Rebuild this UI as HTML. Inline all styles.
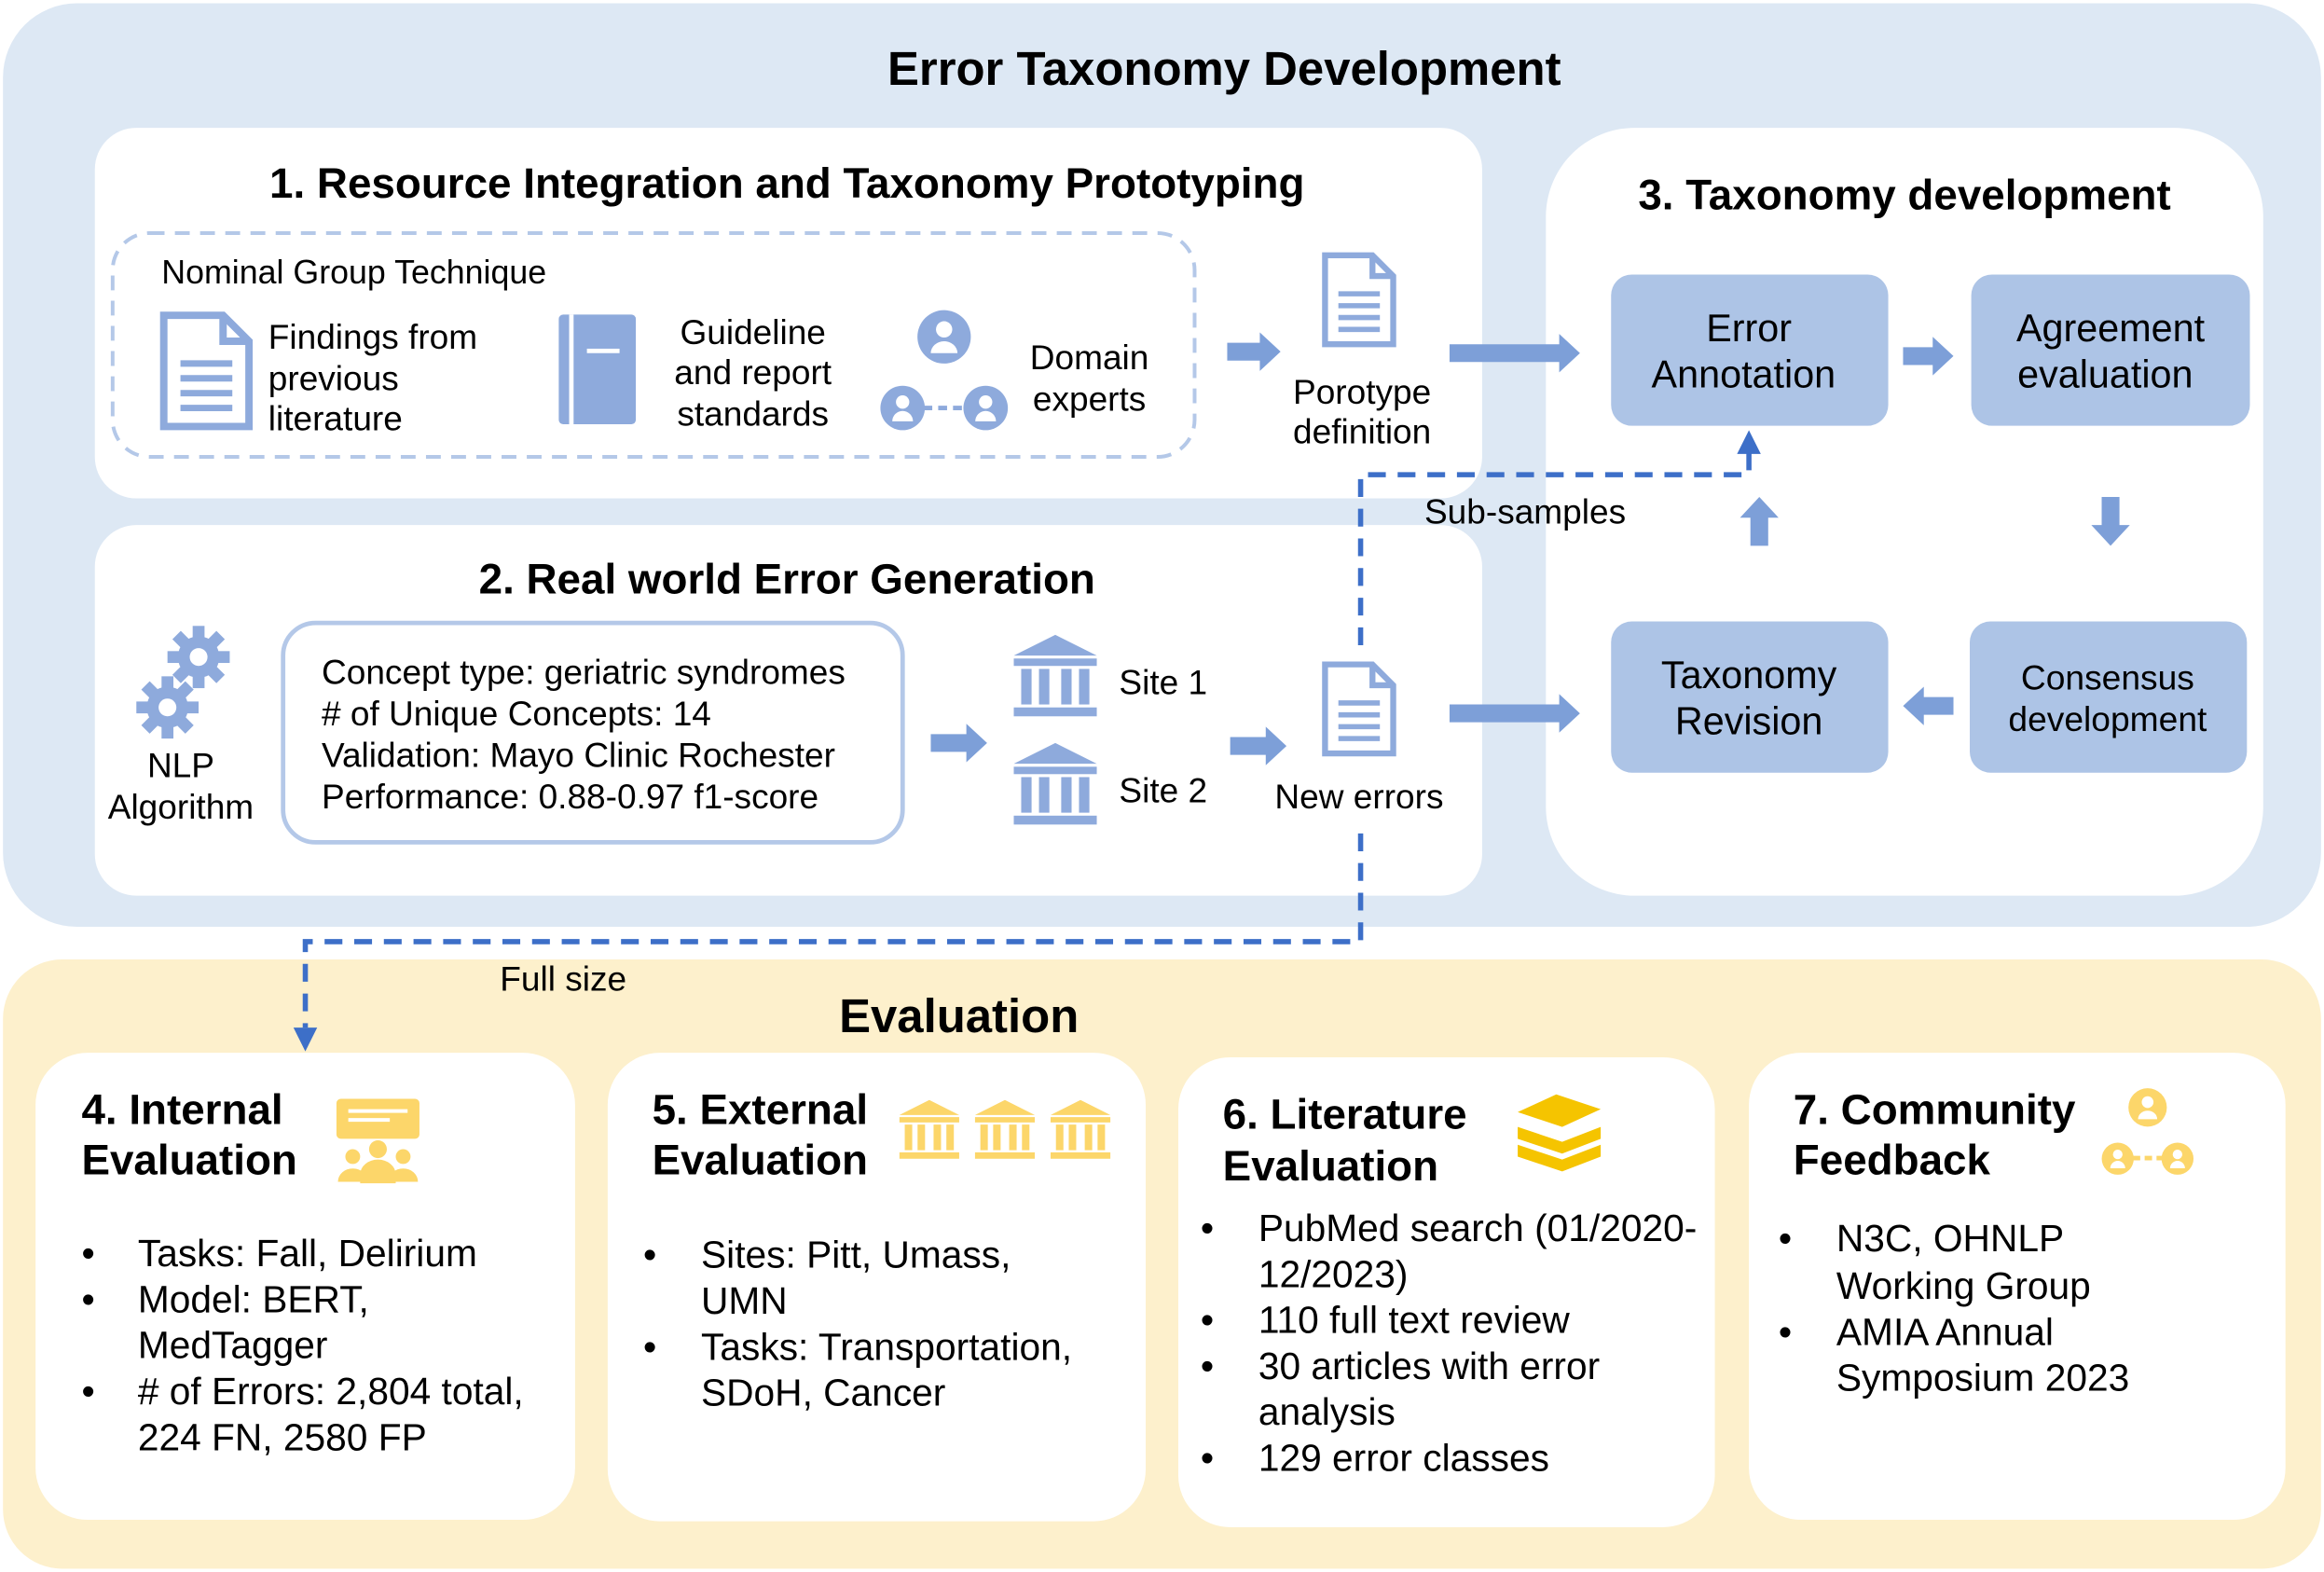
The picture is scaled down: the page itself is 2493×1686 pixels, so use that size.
<!DOCTYPE html>
<html><head><meta charset="utf-8"><style>
html,body{margin:0;padding:0;background:#fff;}
svg{display:block;}
text{font-family:"Liberation Sans",Arial,sans-serif;fill:#000;}
.b{font-weight:bold;}
</style></head><body>
<svg width="2493" height="1686" viewBox="0 0 1568 1060" xmlns="http://www.w3.org/2000/svg">
<defs>
<g id="ppl">
 <circle cx="0" cy="-28" r="18"/><circle cx="-28" cy="20" r="15"/><circle cx="28" cy="20" r="15"/>
 <g fill="#fff"><circle cx="0" cy="-33" r="5.5"/><path d="M-9,-17 a9,8 0 0 1 18,0 z"/>
 <circle cx="-28" cy="16" r="4.5"/><path d="M-35,29 a7,7 0 0 1 14,0 z"/>
 <circle cx="28" cy="16" r="4.5"/><path d="M21,29 a7,7 0 0 1 14,0 z"/></g>
</g>
<g id="bank">
 <path d="M0,-28 L28,-14 L-28,-14 Z"/><rect x="-28" y="-12" width="56" height="5"/>
 <rect x="-23" y="-5" width="7" height="24"/><rect x="-11" y="-5" width="7" height="24"/><rect x="4" y="-5" width="7" height="24"/><rect x="16" y="-5" width="7" height="24"/>
 <rect x="-28" y="21" width="56" height="6"/>
</g>
<g id="doc">
 <path d="M-22,-30 H10 L24,-16 V30 H-22 Z" fill="none" stroke-width="4"/>
 <path d="M10,-30 V-16 H24" fill="none" stroke-width="4"/>
 <g stroke-width="3.5"><line x1="-13" y1="-4" x2="15" y2="-4"/><line x1="-13" y1="4" x2="15" y2="4"/><line x1="-13" y1="12" x2="15" y2="12"/><line x1="-13" y1="20" x2="15" y2="20"/></g>
</g>
</defs>

<rect x="2" y="2" width="1564" height="623" rx="50" fill="#dde8f4"/>
<text x="826" y="57" font-size="32" class="b" text-anchor="middle">Error Taxonomy Development</text>
<rect x="64" y="86" width="936" height="250" rx="28" fill="#fff"/>
<text x="531" y="133" font-size="28.8" class="b" text-anchor="middle">1. Resource Integration and Taxonomy Prototyping</text>
<rect x="76" y="157" width="730" height="151" rx="25" fill="none" stroke="#b4c8e8" stroke-width="2.5" stroke-dasharray="10,7"/>
<text x="109" y="191" font-size="22.5">Nominal Group Technique</text>
<g stroke="#8eaadc" fill="#8eaadc"><use href="#doc" transform="translate(138,250) scale(1.25)"/></g>
<text font-size="23.3"><tspan x="181" y="235">Findings from</tspan><tspan x="181" y="263">previous</tspan><tspan x="181" y="290">literature</tspan></text>
<rect x="377" y="212" width="52" height="74" rx="3" fill="#8eaadc"/><rect x="384" y="212" width="3" height="74" fill="#fff"/><rect x="396" y="235" width="22" height="3" fill="#fff"/>
<text font-size="23.3" text-anchor="middle"><tspan x="508" y="232">Guideline</tspan><tspan x="508" y="259">and report</tspan><tspan x="508" y="287">standards</tspan></text>
<g fill="#8eaadc"><use href="#ppl" transform="translate(637,255)"/></g>
<line x1="623" y1="275" x2="651" y2="275" stroke="#8eaadc" stroke-width="3" stroke-dasharray="6,4"/>
<text font-size="23.3" text-anchor="middle"><tspan x="735" y="249">Domain</tspan><tspan x="735" y="277">experts</tspan></text>
<g stroke="#8eaadc" fill="#8eaadc"><use href="#doc" transform="translate(916,202)"/></g>
<text font-size="23.3" text-anchor="middle"><tspan x="919" y="272">Porotype</tspan><tspan x="919" y="299">definition</tspan></text>

<rect x="64" y="354" width="936" height="250" rx="28" fill="#fff"/>
<text x="531" y="400" font-size="28.8" class="b" text-anchor="middle">2. Real world Error Generation</text>
<g fill="#8eaadc">
 <g transform="translate(134,443)"><rect x="-4" y="-21" width="8" height="42"/><rect x="-21" y="-4" width="42" height="8"/><rect x="-4" y="-21" width="8" height="42" transform="rotate(45)"/><rect x="-4" y="-21" width="8" height="42" transform="rotate(-45)"/><circle r="14"/><circle r="6" fill="#fff"/></g>
 <g transform="translate(113,477)"><rect x="-4" y="-21" width="8" height="42"/><rect x="-21" y="-4" width="42" height="8"/><rect x="-4" y="-21" width="8" height="42" transform="rotate(45)"/><rect x="-4" y="-21" width="8" height="42" transform="rotate(-45)"/><circle r="14"/><circle r="6" fill="#fff"/></g>
</g>
<text font-size="23.3" text-anchor="middle"><tspan x="122" y="524">NLP</tspan><tspan x="122" y="552">Algorithm</tspan></text>
<rect x="191" y="420" width="418" height="148" rx="22" fill="#fff" stroke="#b4c8e8" stroke-width="3"/>
<text font-size="23.3"><tspan x="217" y="461">Concept type: geriatric syndromes</tspan><tspan x="217" y="489"># of Unique Concepts: 14</tspan><tspan x="217" y="517">Validation: Mayo Clinic Rochester</tspan><tspan x="217" y="545">Performance: 0.88-0.97 f1-score</tspan></text>
<g fill="#8eaadc"><use href="#bank" transform="translate(712,456)"/><use href="#bank" transform="translate(712,529)"/></g>
<text x="755" y="468" font-size="23.3">Site 1</text><text x="755" y="541" font-size="23.3">Site 2</text>
<g stroke="#8eaadc" fill="#8eaadc"><use href="#doc" transform="translate(916,478)"/></g>
<text x="917" y="545" font-size="23.3" text-anchor="middle">New errors</text>

<rect x="1043" y="86" width="484" height="518" rx="60" fill="#fff"/>
<text x="1285" y="141" font-size="28.8" class="b" text-anchor="middle">3. Taxonomy development</text>
<g fill="#adc4e6">
<rect x="1087" y="185" width="187" height="102" rx="14"/><rect x="1330" y="185" width="188" height="102" rx="14"/>
<rect x="1087" y="419" width="187" height="102" rx="14"/><rect x="1329" y="419" width="187" height="102" rx="14"/>
</g>
<text font-size="26" text-anchor="middle"><tspan x="1180" y="230">Error</tspan><tspan x="1180" y="261">Annotation</tspan>
<tspan x="1424" y="230">Agreement</tspan><tspan x="1424" y="261">evaluation</tspan>
<tspan x="1180" y="464">Taxonomy</tspan><tspan x="1180" y="495">Revision</tspan></text>
<text font-size="23.4" text-anchor="middle"><tspan x="1422" y="465">Consensus</tspan><tspan x="1422" y="493">development</tspan></text>

<g fill="#7d9fd8">
<polygon points="828,231 850,231 850,224 864,237 850,250 850,243 828,243"/>
<polygon points="978,232 1052,232 1052,225 1066,238 1052,251 1052,244 978,244"/>
<polygon points="1284,234 1304,234 1304,227 1318,240 1304,253 1304,246 1284,246"/>
<polygon points="1418,335 1430,335 1430,354 1437,354 1424,368 1411,354 1418,354"/>
<polygon points="1318,470 1298,470 1298,463 1284,476 1298,489 1298,482 1318,482"/>
<polygon points="1181,368 1193,368 1193,349 1200,349 1187,335 1174,349 1181,349"/>
<polygon points="978,475 1052,475 1052,468 1066,481 1052,494 1052,487 978,487"/>
<polygon points="628,495 652,495 652,488 666,501 652,514 652,507 628,507"/>
<polygon points="830,497 854,497 854,490 868,503 854,516 854,509 830,509"/>
</g>

<rect x="2" y="647" width="1564" height="411" rx="40" fill="#fdf0cc"/>
<text x="647" y="696" font-size="32" class="b" text-anchor="middle">Evaluation</text>
<text x="380" y="668" font-size="23.3" text-anchor="middle">Full size</text>
<g fill="#fff">
<rect x="24" y="710" width="364" height="315" rx="35"/><rect x="410" y="710" width="363" height="316" rx="35"/>
<rect x="795" y="713" width="362" height="317" rx="35"/><rect x="1180" y="710" width="362" height="315" rx="35"/>
</g>
<text font-size="28.8" class="b"><tspan x="55" y="758">4. Internal</tspan><tspan x="55" y="792">Evaluation</tspan>
<tspan x="440" y="758">5. External</tspan><tspan x="440" y="792">Evaluation</tspan>
<tspan x="825" y="761">6. Literature</tspan><tspan x="825" y="796">Evaluation</tspan>
<tspan x="1210" y="758">7. Community</tspan><tspan x="1210" y="792">Feedback</tspan></text>
<g fill="#fcd66a">
<rect x="227" y="741" width="56" height="27" rx="3"/>
<g fill="#fff"><rect x="235" y="748" width="40" height="2.5"/><rect x="235" y="754" width="28" height="2.5"/></g>
<circle cx="255" cy="775" r="6"/><path d="M243,792 a12,10 0 0 1 24,0 z"/>
<circle cx="238" cy="780" r="5"/><path d="M228,797 a10,9 0 0 1 20,0 z"/>
<circle cx="272" cy="780" r="5"/><path d="M262,797 a10,9 0 0 1 20,0 z"/>
<rect x="243" y="790" width="24" height="8"/>
<use href="#bank" transform="translate(627,762) scale(0.72)"/><use href="#bank" transform="translate(678,762) scale(0.72)"/><use href="#bank" transform="translate(729,762) scale(0.72)"/>
<g transform="translate(1449,767) scale(0.72)"><use href="#ppl"/></g>
</g>
<line x1="1439" y1="781" x2="1459" y2="781" stroke="#fcd66a" stroke-width="3" stroke-dasharray="5,3"/>
<g fill="#f5c400">
<polygon points="1024,750 1050,738 1080,748 1054,760"/>
<polygon points="1024,760 1054,770 1080,760 1080,768 1054,778 1024,768"/>
<polygon points="1024,772 1054,782 1080,772 1080,780 1054,790 1024,780"/>
</g>
<text font-size="25.6">
<tspan x="55" y="854">•</tspan><tspan x="93" y="854">Tasks: Fall, Delirium</tspan>
<tspan x="55" y="885">•</tspan><tspan x="93" y="885">Model: BERT,</tspan>
<tspan x="93" y="916">MedTagger</tspan>
<tspan x="55" y="947">•</tspan><tspan x="93" y="947"># of Errors: 2,804 total,</tspan>
<tspan x="93" y="978">224 FN, 2580 FP</tspan>
<tspan x="434" y="855">•</tspan><tspan x="473" y="855">Sites: Pitt, Umass,</tspan>
<tspan x="473" y="886">UMN</tspan>
<tspan x="434" y="917">•</tspan><tspan x="473" y="917">Tasks: Transportation,</tspan>
<tspan x="473" y="948">SDoH, Cancer</tspan>
<tspan x="810" y="837">•</tspan><tspan x="849" y="837">PubMed search (01/2020-</tspan>
<tspan x="849" y="868">12/2023)</tspan>
<tspan x="810" y="899">•</tspan><tspan x="849" y="899">110 full text review</tspan>
<tspan x="810" y="930">•</tspan><tspan x="849" y="930">30 articles with error</tspan>
<tspan x="849" y="961">analysis</tspan>
<tspan x="810" y="992">•</tspan><tspan x="849" y="992">129 error classes</tspan>
<tspan x="1200" y="844">•</tspan><tspan x="1239" y="844">N3C, OHNLP</tspan>
<tspan x="1239" y="876">Working Group</tspan>
<tspan x="1200" y="907">•</tspan><tspan x="1239" y="907">AMIA Annual</tspan>
<tspan x="1239" y="938">Symposium 2023</tspan>
</text>

<g fill="none" stroke="#3d6fc8" stroke-width="3.5" stroke-dasharray="12,8">
<path d="M1180,305 V320 H918 V440"/>
<path d="M918,562 V635 H206 V693"/>
</g>
<polygon points="1180,290 1172,306 1188,306" fill="#3d6fc8"/>
<polygon points="206,709 198,693 214,693" fill="#3d6fc8"/>
<text x="1029" y="353" font-size="23.3" text-anchor="middle">Sub-samples</text>
</svg>
</body></html>
